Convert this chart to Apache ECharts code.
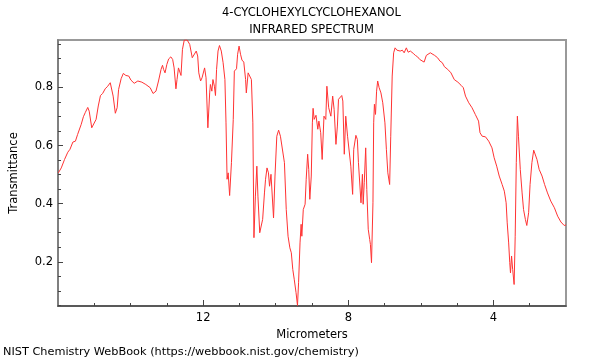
<!DOCTYPE html>
<html>
<head>
<meta charset="utf-8">
<script src="https://cdn.jsdelivr.net/npm/echarts@6/dist/echarts.min.js"></script>
<style>html,body{margin:0;padding:0;background:#fff;}#chart{width:600px;height:360px;}</style>
</head>
<body>
<div id="chart"></div>
<script>
var titleLines = ['4-CYCLOHEXYLCYCLOHEXANOL', 'INFRARED SPECTRUM'];
var xAxisName = 'Micrometers';
var yAxisName = 'Transmittance';
var footerText = 'NIST Chemistry WebBook (https://webbook.nist.gov/chemistry)';
var xMajorTicks = [4, 8, 12];
var xMinorTicks = [3, 5, 6, 7, 9, 10, 11, 13, 14, 15];
var yMajorTicks = [0.2, 0.4, 0.6, 0.8];
var yMinorTicks = [0.05, 0.1, 0.15, 0.25, 0.3, 0.35, 0.45, 0.5, 0.55, 0.65, 0.7, 0.75, 0.85, 0.9, 0.95];

var wavelength = [
15.99,15.91,15.82,15.73,15.67,15.59,15.52,15.46,15.36,15.30,15.25,15.18,15.14,15.07,15.03,14.95,14.89,14.83,14.77,14.70,
14.63,14.56,14.51,14.48,14.42,14.37,14.33,14.26,14.20,14.13,14.05,13.99,13.90,13.80,13.69,13.58,13.46,13.38,13.30,13.23,
13.16,13.12,13.09,13.05,13.00,12.95,12.89,12.84,12.80,12.75,12.72,12.68,12.64,12.61,12.57,12.52,12.44,12.37,12.30,12.26,
12.19,12.15,12.12,12.07,12.03,11.96,11.92,11.87,11.82,11.80,11.76,11.73,11.69,11.66,11.63,11.59,11.55,11.50,11.45,11.40,
11.37,11.34,11.31,11.27,11.22,11.17,11.14,11.08,11.05,11.01,10.97,10.93,10.88,10.83,10.81,10.76,10.72,10.67,10.63,10.60,
10.56,10.52,10.49,10.44,10.40,10.36,10.31,10.28,10.24,10.20,10.17,10.13,10.10,10.06,10.02,9.97,9.92,9.87,9.82,9.76,
9.71,9.66,9.61,9.57,9.53,9.49,9.44,9.40,9.37,9.33,9.30,9.28,9.24,9.19,9.16,9.12,9.09,9.06,9.02,8.99,
8.97,8.94,8.89,8.84,8.81,8.76,8.72,8.67,8.62,8.59,8.54,8.51,8.48,8.43,8.39,8.34,8.30,8.27,8.22,8.18,
8.15,8.11,8.07,8.02,7.97,7.93,7.88,7.85,7.79,7.75,7.72,7.68,7.65,7.61,7.59,7.56,7.52,7.49,7.45,7.41,
7.39,7.36,7.32,7.30,7.28,7.25,7.22,7.19,7.15,7.10,7.05,6.99,6.95,6.91,6.86,6.83,6.79,6.75,6.71,6.66,
6.62,6.57,6.51,6.46,6.40,6.35,6.29,6.21,6.15,6.09,6.03,5.98,5.91,5.85,5.80,5.74,5.69,5.62,5.54,5.47,
5.41,5.35,5.26,5.17,5.08,4.98,4.89,4.83,4.77,4.68,4.59,4.50,4.41,4.37,4.31,4.22,4.13,4.04,3.98,3.91,
3.84,3.76,3.70,3.65,3.62,3.58,3.55,3.53,3.50,3.47,3.43,3.40,3.37,3.34,3.31,3.26,3.21,3.17,3.12,3.08,
3.03,2.99,2.94,2.89,2.85,2.80,2.74,2.66,2.59,2.51,2.42,2.32,2.23,2.14,2.05,2.00
];
var transmittance = [
0.506,0.523,0.552,0.577,0.587,0.612,0.615,0.638,0.673,0.699,0.713,0.731,0.718,0.661,0.664,0.690,0.736,0.772,0.779,0.795,
0.804,0.816,0.810,0.770,0.711,0.730,0.793,0.830,0.848,0.841,0.839,0.825,0.814,0.822,0.818,0.810,0.799,0.779,0.787,0.822,
0.862,0.876,0.862,0.850,0.879,0.898,0.905,0.896,0.867,0.795,0.827,0.867,0.867,0.841,0.931,0.963,0.963,0.948,0.902,0.896,
0.925,0.908,0.850,0.822,0.833,0.867,0.833,0.661,0.781,0.810,0.787,0.827,0.804,0.772,0.862,0.925,0.944,0.925,0.885,0.827,
0.678,0.484,0.506,0.428,0.541,0.690,0.856,0.864,0.914,0.942,0.914,0.894,0.887,0.827,0.781,0.850,0.856,0.827,0.678,0.283,
0.426,0.529,0.426,0.300,0.294,0.346,0.437,0.484,0.523,0.506,0.460,0.501,0.495,0.351,0.495,0.632,0.653,0.632,0.627,0.541,
0.380,0.288,0.248,0.231,0.174,0.140,0.094,0.050,0.128,0.265,0.329,0.288,0.380,0.398,0.484,0.570,0.518,0.415,0.495,0.678,
0.728,0.690,0.704,0.656,0.684,0.644,0.552,0.701,0.690,0.804,0.730,0.736,0.701,0.770,0.724,0.604,0.667,0.759,0.764,0.772,
0.753,0.570,0.701,0.632,0.638,0.529,0.432,0.587,0.635,0.621,0.541,0.535,0.403,0.501,0.398,0.472,0.592,0.449,0.312,0.277,
0.260,0.197,0.403,0.678,0.742,0.707,0.787,0.822,0.799,0.781,0.747,0.678,0.587,0.506,0.466,0.632,0.839,0.919,0.936,0.928,
0.933,0.925,0.928,0.919,0.936,0.921,0.925,0.917,0.910,0.905,0.896,0.898,0.887,0.910,0.914,0.919,0.914,0.910,0.902,0.890,
0.885,0.871,0.862,0.850,0.827,0.818,0.807,0.799,0.770,0.747,0.730,0.707,0.684,0.644,0.632,0.630,0.615,0.592,0.558,0.529,
0.495,0.466,0.443,0.403,0.334,0.265,0.197,0.162,0.220,0.174,0.122,0.288,0.541,0.701,0.632,0.518,0.437,0.380,0.346,0.325,
0.369,0.466,0.541,0.584,0.581,0.552,0.518,0.495,0.466,0.437,0.409,0.386,0.357,0.337,0.325,0.327
];

var points = wavelength.map(function (w, i) { return [w, transmittance[i]]; });
var FONT = 'DejaVu Sans';
var X_MIN = 2, X_MAX = 16, Y_MIN = 0.048, Y_MAX = 0.963;

var chart = echarts.init(document.getElementById('chart'), null, {renderer: 'canvas'});
chart.setOption({
  animation: false,
  backgroundColor: '#fff',
  grid: {left: 57, right: 34, top: 40, bottom: 54, show: true, borderColor: '#999', borderWidth: 2, backgroundColor: 'transparent'},
  graphic: [
    {type: 'text', x: 311.5, y: 13, style: {text: titleLines[0], font: '11.5px "' + FONT + '"', fill: '#000', textAlign: 'center', textVerticalAlign: 'middle'}},
    {type: 'text', x: 311.5, y: 30, style: {text: titleLines[1], font: '11.5px "' + FONT + '"', fill: '#000', textAlign: 'center', textVerticalAlign: 'middle'}},
    {type: 'text', x: 3, y: 352, style: {text: footerText, font: '11.3px "' + FONT + '"', fill: '#000', textAlign: 'left', textVerticalAlign: 'middle'}}
  ],
  xAxis: [
    {type: 'value', min: X_MIN, max: X_MAX, inverse: true, position: 'bottom',
     name: xAxisName, nameLocation: 'middle', nameGap: 20,
     nameTextStyle: {fontFamily: FONT, fontSize: 11.5, color: '#000'},
     axisLine: {show: true, lineStyle: {color: '#444', width: 1.5}},
     axisTick: {show: true, inside: true, length: 6, customValues: xMajorTicks, lineStyle: {color: '#444'}},
     axisLabel: {show: true, customValues: xMajorTicks, margin: 6, fontFamily: FONT, fontSize: 11.5, color: '#000'},
     splitLine: {show: false}},
    {type: 'value', min: X_MIN, max: X_MAX, inverse: true, position: 'bottom',
     axisLine: {show: false},
     axisTick: {show: true, inside: true, length: 3, customValues: xMinorTicks, lineStyle: {color: '#444'}},
     axisLabel: {show: false},
     splitLine: {show: false}}
  ],
  yAxis: [
    {type: 'value', min: Y_MIN, max: Y_MAX, position: 'left',
     name: yAxisName, nameLocation: 'middle', nameGap: 38,
     nameTextStyle: {fontFamily: FONT, fontSize: 11.5, color: '#000'},
     axisLine: {show: true, lineStyle: {color: '#777', width: 1.5}},
     axisTick: {show: true, inside: true, length: 5, customValues: yMajorTicks, lineStyle: {color: '#444'}},
     axisLabel: {show: true, customValues: yMajorTicks, margin: 5, fontFamily: FONT, fontSize: 11.5, color: '#000',
                 formatter: function (v) { return v.toFixed(1); }},
     splitLine: {show: false}},
    {type: 'value', min: Y_MIN, max: Y_MAX, position: 'left',
     axisLine: {show: false},
     axisTick: {show: true, inside: true, length: 3, customValues: yMinorTicks, lineStyle: {color: '#444'}},
     axisLabel: {show: false},
     splitLine: {show: false}}
  ],
  series: [{
    type: 'line', xAxisIndex: 0, yAxisIndex: 0, data: points,
    showSymbol: false, symbol: 'none', smooth: false,
    lineStyle: {color: '#ff3333', width: 1},
    clip: true
  }]
});
</script>
</body>
</html>
